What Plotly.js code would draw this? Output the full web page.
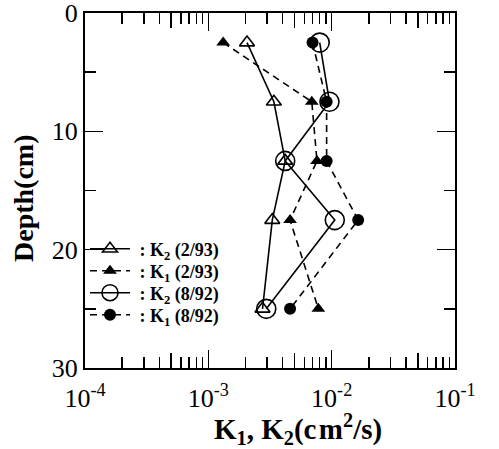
<!DOCTYPE html>
<html><head><meta charset="utf-8">
<script src="https://cdn.plot.ly/plotly-3.0.1.min.js"></script>
<style>html,body{margin:0;padding:0;background:#fff}#c{width:499px;height:449px}</style>
</head><body><div id="c"></div>
<script>
const depth = [2.5, 7.5, 12.5, 17.5, 25];
const k2_293 = [2.06e-3, 3.4e-3, 4.2e-3, 3.3e-3, 2.75e-3];
const k1_293 = [1.32e-3, 6.9e-3, 7.6e-3, 4.6e-3, 7.8e-3];
const k2_892 = [8.0e-3, 9.6e-3, 4.2e-3, 1.06e-2, 2.95e-3];
const k1_892 = [7.0e-3, 9.1e-3, 9.1e-3, 1.64e-2, 4.6e-3];
const names = ['&nbsp;: K<sub>2</sub> (2/93)', '&nbsp;: K<sub>1</sub> (2/93)', '&nbsp;: K<sub>2</sub> (8/92)', '&nbsp;: K<sub>1</sub> (8/92)'];
const xTickVals = [1e-4, 1e-3, 1e-2, 1e-1];
const xTickText = ['10<sup>-4</sup>', '10<sup>-3</sup>', '10<sup>-2</sup>', '10<sup>-1</sup>'];
const yTickVals = [0, 10, 20, 30];

const serif = 'Liberation Serif, Times New Roman, serif';
const minorVals = [];
[1e-4, 1e-3, 1e-2].forEach(d => { [2,3,4,6,7,8,9].forEach(m => minorVals.push(m*d)); });
const midVals = [5e-4, 5e-3, 5e-2];

const dash = '7px,5px';
const traces = [
  {x: k2_293, y: depth, name: names[0], legend: 'legend', mode: 'lines+markers',
   line: {color: '#000', width: 1.6},
   marker: {symbol: 'triangle-up-open', size: 13, color: '#000', line: {width: 1.6}}},
  {x: k1_293, y: depth, name: names[1], legend: 'legend2', mode: 'lines+markers',
   line: {color: '#000', width: 1.6, dash: dash},
   marker: {symbol: 'triangle-up', size: 12, color: '#000'}},
  {x: k2_892, y: depth, name: names[2], legend: 'legend3', mode: 'lines+markers',
   line: {color: '#000', width: 1.6},
   marker: {symbol: 'circle-open', size: 19, color: '#000', line: {width: 1.6}}},
  {x: k1_892, y: depth, name: names[3], legend: 'legend4', mode: 'lines+markers',
   line: {color: '#000', width: 1.6, dash: dash},
   marker: {symbol: 'circle', size: 12, color: '#000'}},
  {x: midVals, y: [null, null, null], xaxis: 'x2', showlegend: false, hoverinfo: 'skip', mode: 'markers'}
];

function leg(yPix) {
  return {x: 0.0, y: (368 - yPix) / 355, xanchor: 'left', yanchor: 'middle', bgcolor: 'rgba(0,0,0,0)',
          font: {family: serif, size: 18, weight: 'bold', color: '#000'}, itemwidth: 40};
}

const layout = {
  width: 499, height: 449,
  margin: {l: 85, r: 44, t: 13, b: 81},
  paper_bgcolor: '#fff', plot_bgcolor: '#fff',
  font: {family: serif, color: '#000'},
  showlegend: true,
  legend: leg(249), legend2: leg(271), legend3: leg(293), legend4: leg(315),
  xaxis: {
    type: 'log', range: [-4, -1], showgrid: false, zeroline: false,
    showline: true, linecolor: '#000', linewidth: 2, mirror: 'ticks',
    ticks: 'inside', ticklen: 18, tickwidth: 1.5, tickcolor: '#000',
    tickvals: xTickVals, ticktext: xTickText, ticklabelstandoff: 6, ticklabeloverflow: 'allow',
    tickfont: {family: serif, size: 26, color: '#000'},
    minor: {tickmode: 'array', tickvals: minorVals, ticks: 'inside', ticklen: 11, tickwidth: 1.5, tickcolor: '#000', showgrid: false}
  },
  xaxis2: {
    type: 'log', range: [-4, -1], overlaying: 'x', side: 'bottom', showgrid: false, zeroline: false,
    showline: false, mirror: 'ticks', ticks: 'inside', ticklen: 15, tickwidth: 1.5, tickcolor: '#000',
    tickvals: midVals, showticklabels: false
  },
  yaxis: {
    range: [30, 0], showgrid: false, zeroline: false,
    showline: true, linecolor: '#000', linewidth: 2, mirror: 'ticks',
    ticks: 'inside', ticklen: 18, tickwidth: 1.5, tickcolor: '#000',
    tickvals: yTickVals, ticklabelstandoff: 0, ticklabeloverflow: 'allow',
    tickfont: {family: serif, size: 26, color: '#000'},
    minor: {tickmode: 'array', tickvals: [5, 15, 25], ticks: 'inside', ticklen: 11, tickwidth: 1.5, tickcolor: '#000', showgrid: false}
  },
  annotations: [{
    xref: 'paper', yref: 'paper', x: (298 - 85) / 370, y: (368 - 429) / 355, xanchor: 'center', yanchor: 'middle',
    showarrow: false, text: 'K<sub>1</sub>, K<sub>2</sub>(c&#8202;m<sup>2</sup>/s)',
    font: {family: serif, size: 29, weight: 'bold', color: '#000'}
  }, {
    xref: 'paper', yref: 'paper', x: (23 - 85) / 370, y: (368 - 198) / 355, xanchor: 'center', yanchor: 'middle',
    showarrow: false, textangle: -90, text: 'Depth(cm)',
    font: {family: serif, size: 28, weight: 'bold', color: '#000'}
  }]
};
Plotly.newPlot('c', traces, layout, {staticPlot: true, displayModeBar: false});
</script></body></html>
